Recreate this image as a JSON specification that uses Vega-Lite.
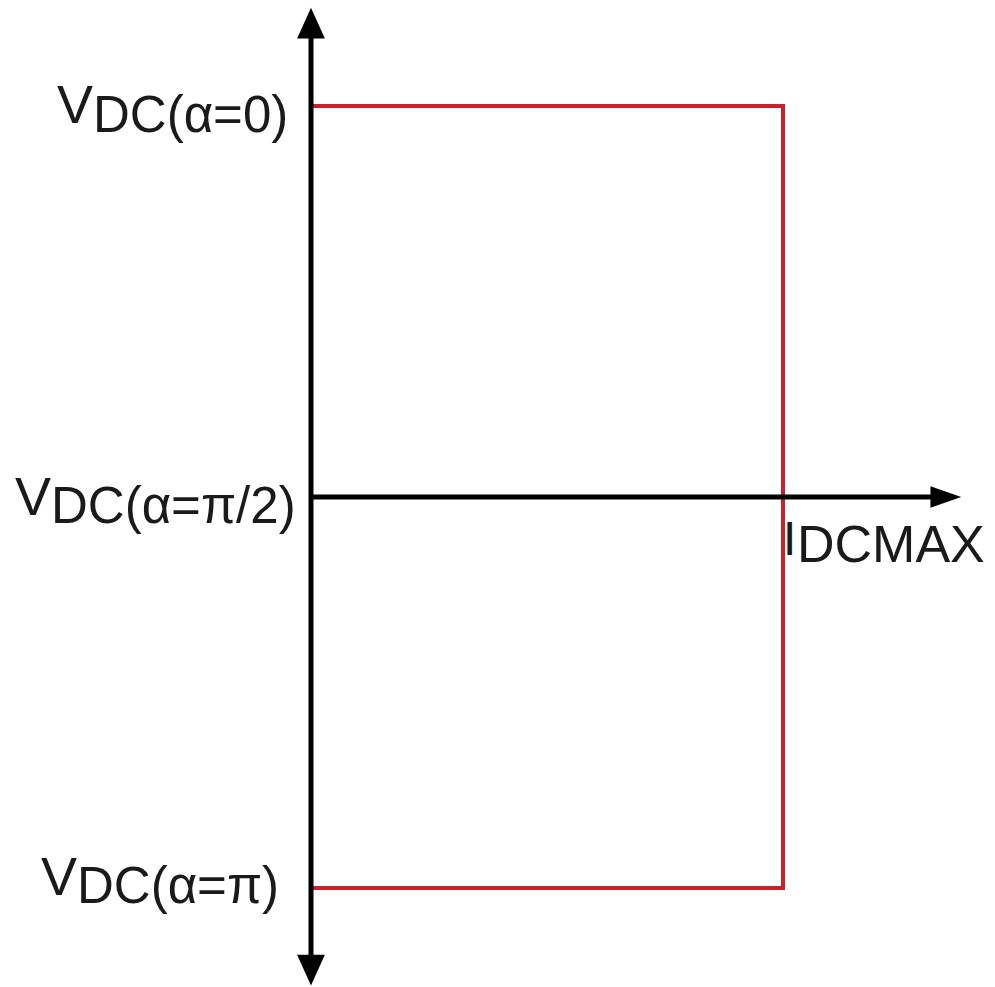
{
  "$schema": "https://vega.github.io/schema/vega-lite/v6.json",
  "width": 995,
  "height": 987,
  "autosize": {"type": "none"},
  "padding": 0,
  "background": "white",
  "config": {"view": {"stroke": null}, "text": {"font": "Liberation Sans", "color": "#1a1a1a", "baseline": "alphabetic", "align": "left"}},
  "datasets": {
    "axes": [
      {"x": 0, "y": 1.212, "x2": 0, "y2": -1.21},
      {"x": 0, "y": 0, "x2": 1.345, "y2": 0}
    ],
    "heads": [
      {"x": 0, "y": 1.212, "dir": "up"},
      {"x": 0, "y": -1.21, "dir": "down"},
      {"x": 1.345, "y": 0, "dir": "right"}
    ],
    "box": [
      {"i": 0, "v": 1, "o": 1},
      {"i": 1, "v": 1, "o": 2},
      {"i": 1, "v": -1, "o": 3},
      {"i": 0, "v": -1, "o": 4}
    ],
    "vlabels": [
      {"i": 0, "v": 1, "lead": "V", "rest": "DC(α=0)"},
      {"i": 0, "v": 0, "lead": "V", "rest": "DC(α=π/2)"},
      {"i": 0, "v": -1, "lead": "V", "rest": "DC(α=π)"}
    ],
    "ilabel": [
      {"i": 1, "v": 0, "lead": "I", "rest": "DCMAX"}
    ]
  },
  "layer": [
    {
      "data": {"name": "box"},
      "mark": {"type": "line", "color": "#c8232c", "strokeWidth": 4, "strokeJoin": "miter", "strokeCap": "butt"},
      "encoding": {
        "x": {"field": "i", "type": "quantitative", "scale": {"domain": [-0.6589, 1.4492], "nice": false, "zero": false}, "axis": null},
        "y": {"field": "v", "type": "quantitative", "scale": {"domain": [-1.2532, 1.2711], "nice": false, "zero": false}, "axis": null},
        "order": {"field": "o"}
      }
    },
    {
      "data": {"name": "axes"},
      "mark": {"type": "rule", "color": "black", "strokeWidth": 5},
      "encoding": {
        "x": {"field": "x", "type": "quantitative"},
        "y": {"field": "y", "type": "quantitative"},
        "x2": {"field": "x2"},
        "y2": {"field": "y2"}
      }
    },
    {
      "data": {"name": "heads"},
      "mark": {"type": "point", "filled": true, "opacity": 1, "color": "black", "strokeWidth": 0},
      "encoding": {
        "x": {"field": "x", "type": "quantitative"},
        "y": {"field": "y", "type": "quantitative"},
        "shape": {"field": "dir", "type": "nominal", "legend": null, "scale": {"domain": ["up", "down", "right"], "range": ["M 0 -1 L 0.9 1 L -0.9 1 Z", "M 0 1 L 0.9 -1 L -0.9 -1 Z", "M 1 0 L -1 -0.7 L -1 0.7 Z"]}},
        "size": {"value": 950}
      }
    },
    {
      "data": {"name": "vlabels"},
      "transform": [{"filter": "datum.v == 1"}],
      "layer": [
        {"mark": {"type": "text", "fontSize": 54, "dx": -254, "dy": 17}, "encoding": {"x": {"field": "i", "type": "quantitative"}, "y": {"field": "v", "type": "quantitative"}, "text": {"field": "lead"}}},
        {"mark": {"type": "text", "fontSize": 51, "dx": -218, "dy": 26}, "encoding": {"x": {"field": "i", "type": "quantitative"}, "y": {"field": "v", "type": "quantitative"}, "text": {"field": "rest"}}}
      ]
    },
    {
      "data": {"name": "vlabels"},
      "transform": [{"filter": "datum.v == 0"}],
      "layer": [
        {"mark": {"type": "text", "fontSize": 54, "dx": -296, "dy": 18}, "encoding": {"x": {"field": "i", "type": "quantitative"}, "y": {"field": "v", "type": "quantitative"}, "text": {"field": "lead"}}},
        {"mark": {"type": "text", "fontSize": 51, "dx": -260, "dy": 26}, "encoding": {"x": {"field": "i", "type": "quantitative"}, "y": {"field": "v", "type": "quantitative"}, "text": {"field": "rest"}}}
      ]
    },
    {
      "data": {"name": "vlabels"},
      "transform": [{"filter": "datum.v == -1"}],
      "layer": [
        {"mark": {"type": "text", "fontSize": 54, "dx": -270, "dy": 7}, "encoding": {"x": {"field": "i", "type": "quantitative"}, "y": {"field": "v", "type": "quantitative"}, "text": {"field": "lead"}}},
        {"mark": {"type": "text", "fontSize": 51, "dx": -234, "dy": 15}, "encoding": {"x": {"field": "i", "type": "quantitative"}, "y": {"field": "v", "type": "quantitative"}, "text": {"field": "rest"}}}
      ]
    },
    {
      "data": {"name": "ilabel"},
      "layer": [
        {"mark": {"type": "text", "fontSize": 48, "dx": 0, "dy": 58}, "encoding": {"x": {"field": "i", "type": "quantitative"}, "y": {"field": "v", "type": "quantitative"}, "text": {"field": "lead"}}},
        {"mark": {"type": "text", "fontSize": 52, "dx": 14, "dy": 65}, "encoding": {"x": {"field": "i", "type": "quantitative"}, "y": {"field": "v", "type": "quantitative"}, "text": {"field": "rest"}}}
      ]
    }
  ]
}
